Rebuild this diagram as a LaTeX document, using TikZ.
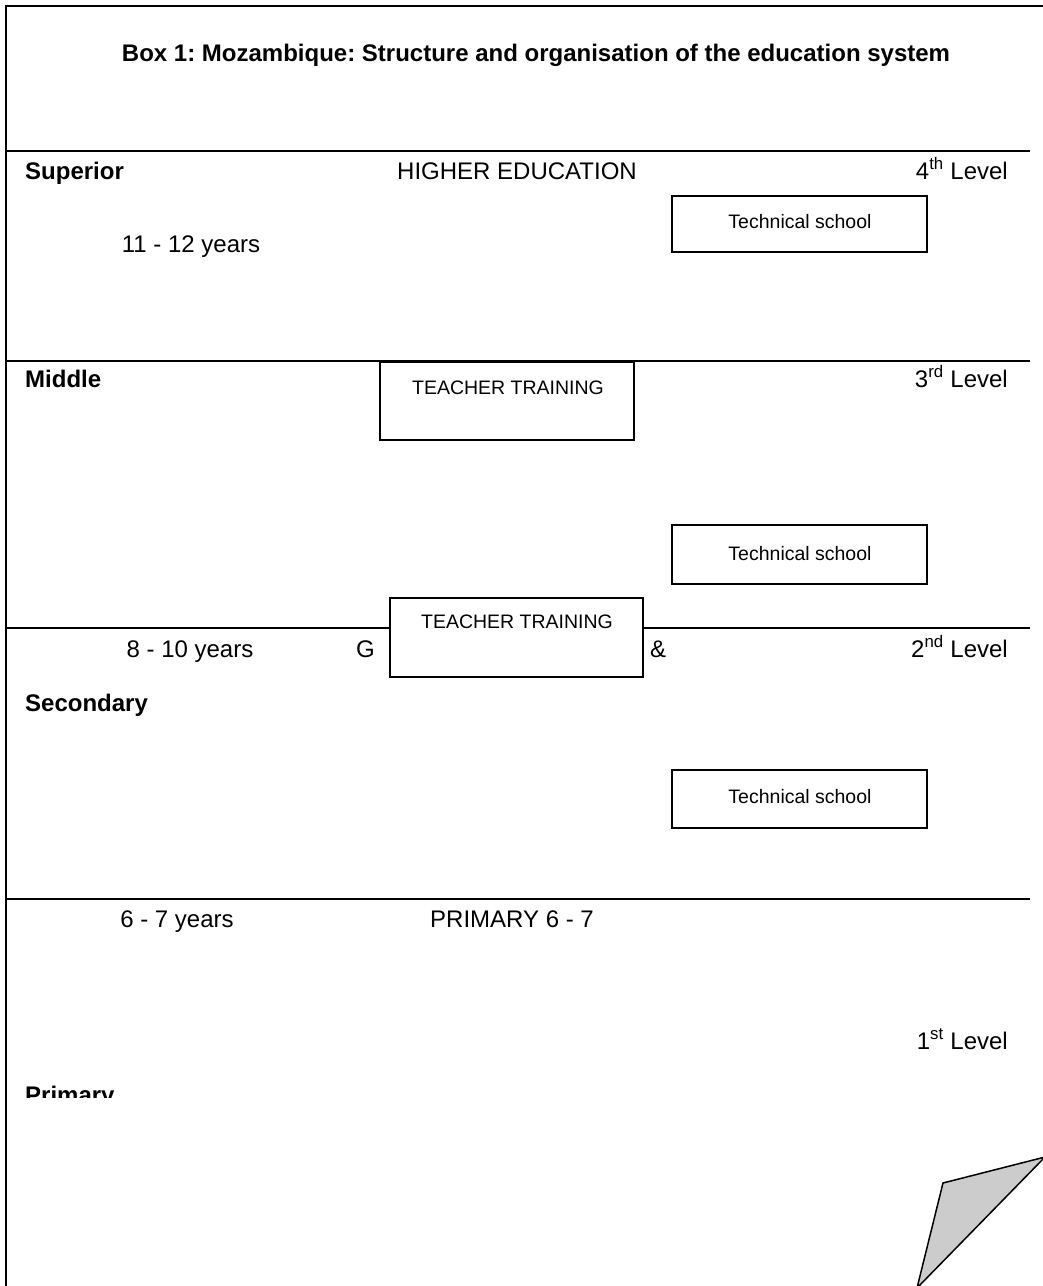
\documentclass[tikz,border=0pt]{standalone}
\usepackage{fontspec}
\setmainfont{Liberation Sans}
\frenchspacing
\begin{document}
\begin{tikzpicture}[x=1pt,y=-1pt,
  lbl/.style={font=\fontsize{24}{28}\selectfont, inner sep=0pt, anchor=base},
  head/.style={lbl, font=\fontsize{24}{28}\selectfont\bfseries, anchor=base west},
  lvl/.style={lbl, anchor=base east},
  boxtxt/.style={font=\fontsize{19.5}{23}\selectfont, inner sep=0pt, anchor=base},
  rule/.style={line width=2pt},
  frame/.style={line width=2.5pt},
  box/.style={line width=1.5pt, fill=white}]
\useasboundingbox (0,0) rectangle (1043,1286);
% frame and title
\draw[frame] (6,1290) -- (6,6) -- (1050,6);
\node[lbl, font=\fontsize{24}{28}\selectfont\bfseries] (title) at (536,61)
  {Box 1: Mozambique: Structure and organisation of the education system};

% level rules
\draw[rule] (7,151) -- (1030,151);
\draw[rule] (7,361) -- (1030,361);
\draw[rule] (7,628) -- (1030,628);
\draw[rule] (7,899) -- (1030,899);

% 4th level
\node[head] (superior) at (25,179) {Superior};
\node[lbl] (higher) at (517,179) {HIGHER EDUCATION};
\node[lvl] (lvlfour) at (1008,179) {4\textsuperscript{th} Level};
\node[lbl] (yrsup) at (191,252) {11 - 12 years};
\draw[box] (672,196) rectangle (927,252);
\node[boxtxt] (techa) at (800,228) {Technical school};

% 3rd level
\node[head] (middle) at (25,387) {Middle};
\node[lvl] (lvlthree) at (1008,387) {3\textsuperscript{rd} Level};
\draw[box] (380,362) rectangle (634,440);
\node[boxtxt] (teacha) at (508,394) {TEACHER TRAINING};
\draw[box] (672,525) rectangle (927,584);
\node[boxtxt] (techb) at (800,560) {Technical school};

% 2nd level
\node[lbl] (yrmid) at (190,657) {8 - 10 years};
\node[lbl, anchor=base east] (gee) at (375,657) {G};
\draw[box] (390,598) rectangle (643,677);
\node[boxtxt] (teachb) at (517,628) {TEACHER TRAINING};
\node[lbl, anchor=base west] (amp) at (650,657) {\&};
\node[lvl] (lvltwo) at (1008,657) {2\textsuperscript{nd} Level};
\node[head] (secondary) at (25,711) {Secondary};
\draw[box] (672,770) rectangle (927,828);
\node[boxtxt] (techc) at (800,803) {Technical school};

% 1st level
\node[lbl] (yrprim) at (177,927) {6 - 7 years};
\node[lbl] (primary) at (512,927) {PRIMARY 6 - 7};
\node[lvl] (lvlone) at (1008,1049) {1\textsuperscript{st} Level};
\begin{scope}
  \clip (0,1070) rectangle (400,1097);
  \node[head] (primlbl) at (25,1103) {Primary};
\end{scope}

% page curl
\draw[line width=1.5pt, fill=black!20] (943,1183) -- (1045,1157) -- (917,1288) -- cycle;
\end{tikzpicture}
\end{document}
